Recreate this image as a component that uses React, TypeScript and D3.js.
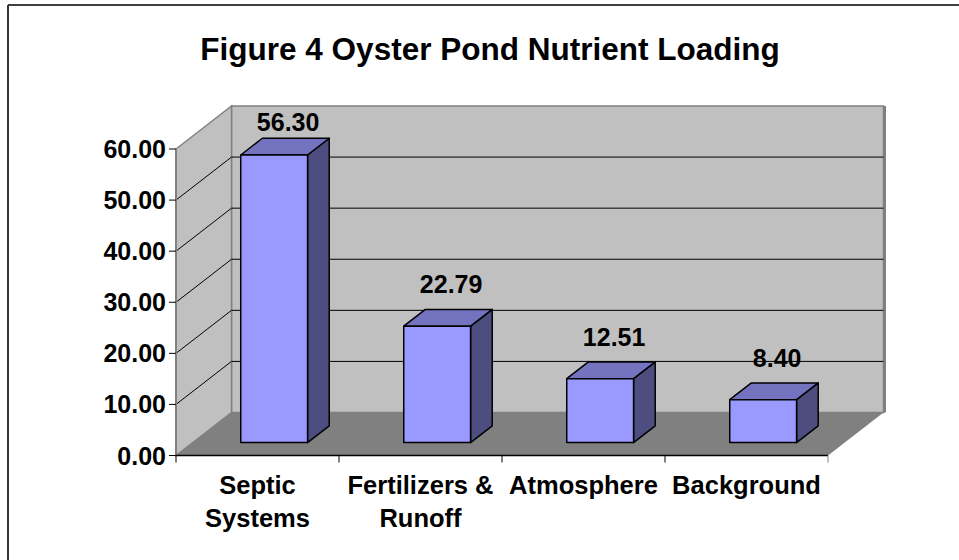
import React from "react";
import * as d3 from "d3";

const title = "Figure 4 Oyster Pond Nutrient Loading";
const categories = ["Septic Systems", "Fertilizers & Runoff", "Atmosphere", "Background"];
const categoryLines = [["Septic", "Systems"], ["Fertilizers &", "Runoff"], ["Atmosphere"], ["Background"]];
const values = [56.3, 22.79, 12.51, 8.4];
const yTicks = [0, 10, 20, 30, 40, 50, 60];

const FONT = "'Liberation Sans', Arial, sans-serif";

export default function App() {
  const W = 959;
  const H = 560;

  // front plane of the 3d box
  const left = 176, right = 828, bottom = 455.5, top = 149;
  // depth offset of the back wall
  const dx = 55.5, dy = -43;
  // where the bars sit in depth
  const z0 = 0.3, z1 = 0.69;

  const x = d3.scaleBand<string>()
    .domain(categories)
    .range([left, right])
    .paddingInner(0.59)
    .paddingOuter(0.295);

  const y = d3.scaleLinear().domain([0, 60]).range([bottom, top]);

  const pts = (p: number[][]) => p.map(d => d.join(",")).join(" ");

  const wallTop = y(60) + dy;
  const backLeft = left + dx;
  const backRight = right + dx;
  const backBottom = bottom + dy;

  const bw = x.bandwidth();
  const ddx = (z1 - z0) * dx;
  const ddy = (z1 - z0) * dy;

  return (
    <svg width={W} height={H} style={{ position: "absolute", left: 0, top: 0, background: "#fff" }}>
      {/* chart border */}
      <line x1={8} y1={5} x2={W} y2={5} stroke="#000" strokeWidth={1.5} />
      <line x1={8} y1={5} x2={8} y2={H} stroke="#333" strokeWidth={2} />

      <text x={490} y={60} textAnchor="middle" fontFamily={FONT} fontWeight="bold" fontSize={31.5}>
        {title}
      </text>

      {/* walls and floor */}
      <polygon
        points={pts([[backLeft, wallTop], [backRight, wallTop], [backRight, backBottom], [backLeft, backBottom]])}
        fill="#c0c0c0" stroke="#808080" strokeWidth={1.5}
      />
      <line x1={backRight + 1} y1={wallTop} x2={backRight + 1} y2={backBottom} stroke="#808080" strokeWidth={3} />
      <polygon
        points={pts([[left, bottom], [left, y(60)], [backLeft, wallTop], [backLeft, backBottom]])}
        fill="#c0c0c0" stroke="#808080" strokeWidth={1.5}
      />
      <polygon
        points={pts([[left, bottom], [backLeft, backBottom], [backRight, backBottom], [right, bottom]])}
        fill="#808080"
      />

      {/* gridlines */}
      {yTicks.filter(t => t > 0 && t < 60).map(t => (
        <g key={t}>
          <line x1={left} y1={y(t)} x2={backLeft} y2={y(t) + dy} stroke="#000" strokeWidth={1} />
          <line x1={backLeft} y1={y(t) + dy} x2={backRight} y2={y(t) + dy} stroke="#000" strokeWidth={1} />
        </g>
      ))}

      {/* y axis */}
      <line x1={left} y1={y(60)} x2={left} y2={bottom} stroke="#808080" strokeWidth={2} />
      {yTicks.map(t => (
        <g key={t}>
          <line x1={left - 7} y1={y(t)} x2={left} y2={y(t)} stroke="#000" strokeWidth={1} />
          <text x={166} y={y(t) + 9} textAnchor="end" fontFamily={FONT} fontWeight="bold" fontSize={25}>
            {d3.format(".2f")(t)}
          </text>
        </g>
      ))}

      {/* x axis */}
      <line x1={left} y1={bottom} x2={right} y2={bottom} stroke="#000" strokeWidth={1.5} />
      {categories.map(c => {
        const x0 = x(c)! - x.step() * 0.295;
        return <line key={c} x1={x0} y1={bottom} x2={x0} y2={bottom + 7} stroke="#000" strokeWidth={1} />;
      })}
      <line x1={right} y1={bottom} x2={right} y2={bottom + 7} stroke="#808080" strokeWidth={1} />

      {categories.map((c, i) => (
        <text key={c} textAnchor="middle" fontFamily={FONT} fontWeight="bold" fontSize={25.5}>
          {categoryLines[i].map((l, j) => (
            <tspan key={j} x={x(c)! + bw / 2} y={494 + j * 33}>{l}</tspan>
          ))}
        </text>
      ))}

      {/* bars */}
      {categories.map((c, i) => {
        const v = values[i];
        const x0 = x(c)! + z0 * dx;
        const x1 = x0 + bw;
        const yt = y(v) + z0 * dy;
        const yb = y(0) + z0 * dy;
        return (
          <g key={c} stroke="#000" strokeWidth={1.5} strokeLinejoin="round">
            <polygon points={pts([[x1, yt], [x1 + ddx, yt + ddy], [x1 + ddx, yb + ddy], [x1, yb]])} fill="#4d4d80" />
            <polygon points={pts([[x0, yt], [x0 + ddx, yt + ddy], [x1 + ddx, yt + ddy], [x1, yt]])} fill="#7373c0" />
            <rect x={x0} y={yt} width={bw} height={yb - yt} fill="#9999ff" />
          </g>
        );
      })}

      {/* data labels */}
      {categories.map((c, i) => {
        const v = values[i];
        const x0 = x(c)! + z0 * dx;
        const yt = y(v) + z0 * dy;
        const cy = Math.max(yt - 42, wallTop + 16);
        return (
          <text key={c} x={x0 + bw / 2 + 14} y={cy + 9} textAnchor="middle"
            fontFamily={FONT} fontWeight="bold" fontSize={25}>
            {d3.format(".2f")(v)}
          </text>
        );
      })}
    </svg>
  );
}
